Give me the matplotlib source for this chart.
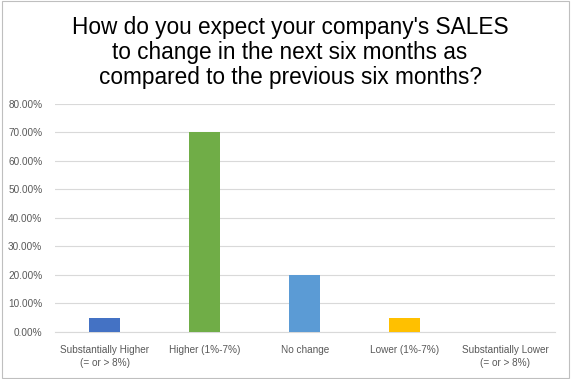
import matplotlib.pyplot as plt
from matplotlib.patches import Rectangle
from matplotlib.ticker import PercentFormatter

categories = ['Substantially Higher\n(= or > 8%)', 'Higher (1%-7%)', 'No change',
              'Lower (1%-7%)', 'Substantially Lower\n(= or > 8%)']
values = [0.05, 0.70, 0.20, 0.05, 0.0]
colors = ['#4472C4', '#70AD47', '#5B9BD5', '#FFC000', '#A5A5A5']

title = ("How do you expect your company's SALES\n"
         "to change in the next six months as\n"
         "compared to the previous six months?")

plt.rcParams['font.family'] = ['Liberation Sans', 'DejaVu Sans']

fig = plt.figure(figsize=(5.71, 3.79), dpi=100)
ax = fig.add_axes([0.096, 0.124, 0.876, 0.602])

x = range(len(categories))
ax.bar(x, values, width=0.31, color=colors, zorder=3)

ax.set_ylim(0, 0.8)
ax.set_xlim(-0.5, 4.5)
ax.set_yticks([i / 10 for i in range(9)])
ax.yaxis.set_major_formatter(PercentFormatter(1.0, decimals=2))
ax.set_xticks(list(x))
ax.set_xticklabels(categories, fontsize=7.2, color='#595959', linespacing=1.4)
ax.tick_params(axis='y', labelsize=7.2, labelcolor='#595959', length=0, pad=9)
ax.tick_params(axis='x', length=0, pad=9)
ax.grid(axis='y', color='#D9D9D9', linewidth=0.8, zorder=0)
for s in ['top', 'right', 'left']:
    ax.spines[s].set_visible(False)
ax.spines['bottom'].set_color('#D9D9D9')

fig.text(0.508, 0.958, title, ha='center', va='top', fontsize=16.3, linespacing=1.12)

fig.patches.append(Rectangle((0.003, 0.003), 0.994, 0.994, transform=fig.transFigure,
                             fill=False, edgecolor='#BFBFBF', linewidth=0.8))

fig.savefig('out.png', dpi=100)
